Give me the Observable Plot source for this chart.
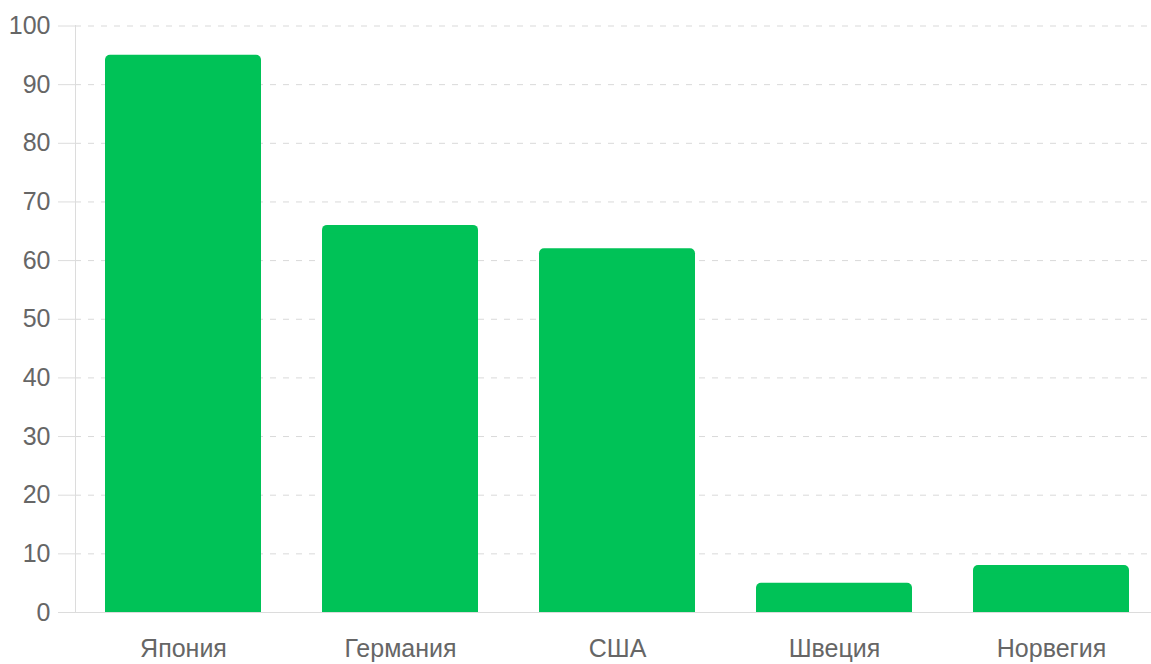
<!DOCTYPE html>
<html>
<head>
<meta charset="utf-8">
<script src="https://cdn.jsdelivr.net/npm/d3@7"></script>
<script src="https://cdn.jsdelivr.net/npm/@observablehq/plot@0.6"></script>
<style>
  html, body { margin: 0; padding: 0; background: #fff; }
  svg { display: block; }
</style>
</head>
<body>
<div id="chart"></div>
<script>
const countries = ["Япония", "Германия", "США", "Швеция", "Норвегия"];
const values = [95, 66, 62, 5, 8];
const yTicks = [0, 10, 20, 30, 40, 50, 60, 70, 80, 90, 100];

const data = countries.map((c, i) => ({country: c, value: values[i]}));
const green = "#00c257";

const chart = Plot.plot({
  width: 1151,
  height: 664,
  marginLeft: 75,
  marginTop: 25,
  marginBottom: 52,
  marginRight: 0,
  style: {fontFamily: "'Liberation Sans', Arial, sans-serif", fontSize: "25px", color: "#666", background: "#fff"},
  x: {domain: countries, range: [75, 1160], paddingInner: 0.28, paddingOuter: 0.14, label: null},
  y: {domain: [0, 100], range: [612, 25.5], label: null},
  marks: [
    Plot.gridY(yTicks, {stroke: "#d9d9d9", strokeOpacity: 1, strokeDasharray: "6,7"}),
    Plot.axisY(yTicks, {tickSize: 17, tickPadding: 8, stroke: "#dcdcdc", fill: "#666", fontSize: 25, label: null}),
    Plot.axisX({tickSize: 0, tickPadding: 27, fill: "#666", fontSize: 25, label: null}),
    Plot.barY(data, {x: "country", y: "value", fill: green, rx: 5}),
    Plot.barY(data, {x: "country", y1: 0, y2: d => d.value - 1.5, fill: green}),
    Plot.frame({anchor: "left", stroke: "#dcdcdc"}),
    Plot.ruleY([0], {stroke: "#dcdcdc"})
  ]
});
document.getElementById("chart").appendChild(chart);
</script>
</body>
</html>
